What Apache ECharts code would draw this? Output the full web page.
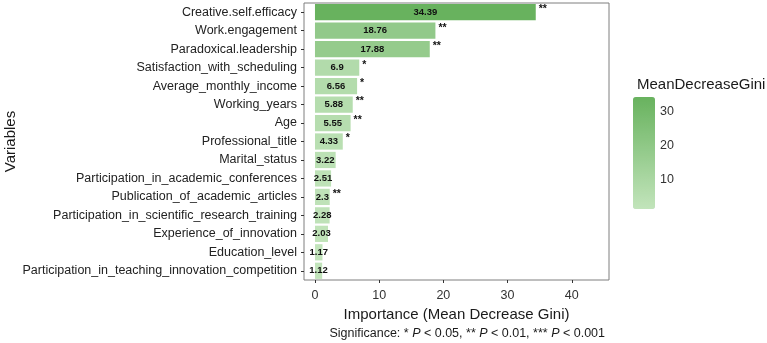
<!DOCTYPE html>
<html>
<head>
<meta charset="utf-8">
<script src="https://cdn.jsdelivr.net/npm/echarts@6/dist/echarts.min.js"></script>
<style>
  html, body { margin: 0; padding: 0; background: #fff; }
  #chart { width: 767px; height: 343px; }
</style>
</head>
<body>
<div id="chart"></div>
<script>
// variables listed top to bottom as in the figure
const variables = [
  "Creative.self.efficacy",
  "Work.engagement",
  "Paradoxical.leadership",
  "Satisfaction_with_scheduling",
  "Average_monthly_income",
  "Working_years",
  "Age",
  "Professional_title",
  "Marital_status",
  "Participation_in_academic_conferences",
  "Publication_of_academic_articles",
  "Participation_in_scientific_research_training",
  "Experience_of_innovation",
  "Education_level",
  "Participation_in_teaching_innovation_competition"
];
const giniValues = [34.39, 18.76, 17.88, 6.9, 6.56, 5.88, 5.55, 4.33, 3.22, 2.51, 2.3, 2.28, 2.03, 1.17, 1.12];
const significance = ["**", "**", "**", "*", "*", "**", "**", "*", "", "", "**", "", "", "", ""];
const xTicks = [0, 10, 20, 30, 40];
const legendTicks = [10, 20, 30];

const FONT = "Liberation Sans, Arial, sans-serif";

// category axis runs bottom to top, so reverse everything
const cats = variables.slice().reverse();
const vals = giniValues.slice().reverse();
const stars = significance.slice().reverse();

const chart = echarts.init(document.getElementById("chart"));

chart.setOption({
  animation: false,
  textStyle: { fontFamily: FONT },
  grid: [
    { left: 304, top: 3, right: 158, bottom: 63, show: true, borderColor: "#7f7f7f", borderWidth: 1 },
    // colour bar guide
    { left: 633, top: 97, width: 22, height: 112, show: false }
  ],
  xAxis: [
    {
      gridIndex: 0,
      type: "value",
      min: -1.71,
      max: 45.8,
      name: "Importance (Mean Decrease Gini)",
      nameLocation: "middle",
      nameGap: 26,
      nameTextStyle: { fontSize: 15, color: "#1a1a1a" },
      axisLine: { show: false, onZero: false },
      axisTick: { show: true, length: 3, lineStyle: { color: "#333" }, customValues: xTicks },
      axisLabel: { color: "#333", fontSize: 12.5, margin: 9, customValues: xTicks },
      splitLine: { show: false }
    },
    { gridIndex: 1, type: "value", show: false }
  ],
  yAxis: [
    {
      gridIndex: 0,
      type: "category",
      data: cats,
      name: "Variables",
      nameLocation: "middle",
      nameGap: 284,
      nameRotate: 90,
      nameTextStyle: { fontSize: 15, color: "#1a1a1a" },
      axisLine: { show: false, onZero: false },
      axisTick: { show: true, length: 3, alignWithLabel: true, lineStyle: { color: "#333", width: 1 } },
      axisLabel: { color: "#222", fontSize: 12.5, margin: 7 },
      splitLine: { show: false }
    },
    {
      gridIndex: 1,
      type: "value",
      position: "right",
      min: 1.12,
      max: 34.39,
      axisLine: { show: false, onZero: false },
      axisTick: { show: true, inside: true, length: 4, lineStyle: { color: "#fff" }, customValues: legendTicks },
      axisLabel: { color: "#333", fontSize: 12.5, margin: 5, customValues: legendTicks },
      splitLine: { show: false }
    },
    {
      gridIndex: 1,
      type: "value",
      position: "left",
      min: 1.12,
      max: 34.39,
      axisLine: { show: false, onZero: false },
      axisTick: { show: true, inside: true, length: 4, lineStyle: { color: "#fff" }, customValues: legendTicks },
      axisLabel: { show: false },
      splitLine: { show: false }
    }
  ],
  visualMap: {
    type: "continuous",
    seriesIndex: 0,
    dimension: 0,
    min: 1.12,
    max: 34.39,
    left: 633,
    top: 97,
    itemWidth: 22,
    itemHeight: 112,
    calculable: false,
    showLabel: false,
    text: null,
    padding: 0,
    inRange: { color: ["#c2e4bb", "#68b25e"] }
  },
  title: [
    {
      text: "MeanDecreaseGini",
      left: 632,
      top: 72,
      textStyle: { fontSize: 15, fontWeight: "normal", color: "#1a1a1a", fontFamily: FONT }
    },
    {
      text: "Significance: * {i|P} < 0.05, ** {i|P} < 0.01, *** {i|P} < 0.001",
      right: 157,
      top: 322,
      textStyle: {
        fontSize: 12.5, fontWeight: "normal", color: "#1a1a1a", fontFamily: FONT,
        rich: { i: { fontStyle: "italic", fontSize: 12.5, color: "#1a1a1a", fontFamily: FONT } }
      }
    }
  ],
  series: [
    {
      type: "bar",
      xAxisIndex: 0,
      yAxisIndex: 0,
      barWidth: "88%",
      data: vals.map((v, i) => [v, cats[i]]),
      encode: { x: 0, y: 1 },
      label: {
        show: true,
        position: "inside",
        color: "#111",
        fontWeight: "bold",
        fontSize: 9.5,
        formatter: p => String(p.value[0])
      }
    },
    {
      type: "bar",
      xAxisIndex: 0,
      yAxisIndex: 0,
      barWidth: "88%",
      barGap: "-100%",
      itemStyle: { color: "rgba(0,0,0,0)" },
      data: vals.map((v, i) => [v, cats[i]]),
      encode: { x: 0, y: 1 },
      label: {
        show: true,
        position: "right",
        distance: 3,
        offset: [0, -3],
        color: "#111",
        fontWeight: "bold",
        fontSize: 10.5,
        formatter: p => stars[p.dataIndex]
      },
      silent: true
    }
  ]
});
</script>
</body>
</html>
